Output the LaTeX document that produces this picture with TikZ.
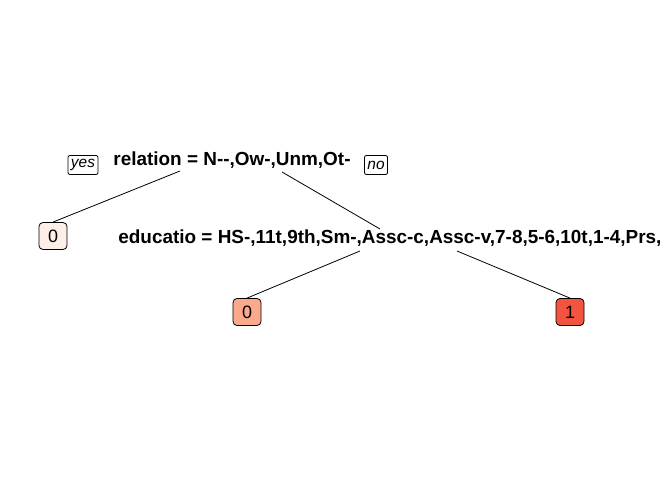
\documentclass[tikz,border=0pt]{standalone}
\usepackage{fontspec}
\setmainfont{Liberation Sans}
\definecolor{leafpale}{HTML}{FDEEE8}
\definecolor{leafmid}{HTML}{FBA98C}
\definecolor{leafred}{HTML}{F4543F}
\begin{document}
\begin{tikzpicture}[x=1bp, y=-1bp, line width=0.8bp,
    split/.style={font=\fontsize{19}{23}\selectfont\bfseries, inner sep=0pt},
    leaf/.style={draw, rounded corners=4bp, minimum width=28bp, minimum height=27bp, inner sep=0pt, font=\fontsize{18}{22}\selectfont},
    tag/.style={draw, rounded corners=2bp, font=\fontsize{15.5}{18}\selectfont\itshape, minimum height=19bp, inner xsep=3bp, inner ysep=0pt}]
    \useasboundingbox (0,0) rectangle (672,480);
    \clip (0,0) rectangle (672,480);
    \node[split] (rel) at (232,160) {relation = N{-}{-},Ow-,Unm,Ot-};
    \node[tag] (yes) at (83,165) {yes};
    \node[tag] (no) at (376,165) {no};
    \node[split, anchor=west] (edu) at (118,238) {educatio = HS-,11t,9th,Sm-,Assc-c,Assc-v,7-8,5-6,10t,1-4,Prs,};
    \node[leaf, fill=leafpale] (l1) at (53,236) {0};
    \node[leaf, fill=leafmid] (l2) at (247,312) {0};
    \node[leaf, fill=leafred] (l3) at (570,312) {1};
    \coordinate (relL) at (180,171);
    \coordinate (relR) at (282,172);
    \coordinate (eduTop) at (380,229);
    \coordinate (eduL) at (360,251);
    \coordinate (eduR) at (457,251);
    \path[draw]
    (relL) edge (l1.north)
    (relR) edge (eduTop)
    (eduL) edge (l2.north)
    (eduR) edge (l3.north);
  \end{tikzpicture}
\end{document}
